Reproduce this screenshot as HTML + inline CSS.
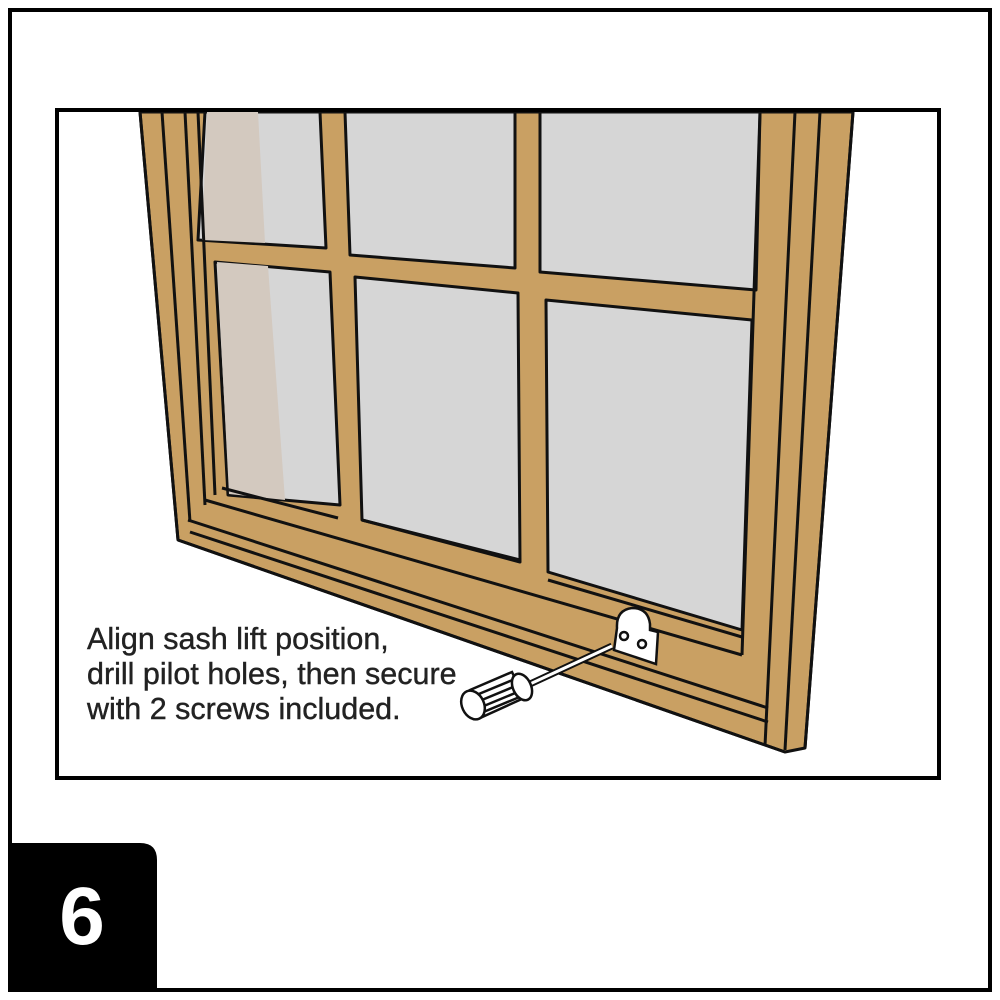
<!DOCTYPE html>
<html><head><style>
html,body{margin:0;padding:0;background:#fff;}
svg{display:block;}
</style></head><body>
<svg width="1000" height="1000" viewBox="0 0 1000 1000" xmlns="http://www.w3.org/2000/svg">
<rect x="0" y="0" width="1000" height="1000" fill="#fff"/>
<rect x="10" y="10" width="980" height="980" fill="none" stroke="#000" stroke-width="4"/>
<g stroke="#111" stroke-width="3" stroke-linejoin="round">
<polygon points="140,112 853,112 805,748 785,752 178,540" fill="#c9a063"/>
<polygon points="205,112 320,112 326,248 198,240" fill="#d6d6d6"/>
<polygon points="207,112 258,112 265,243 202,240" fill="#d3c9bf" stroke="none"/>
<polygon points="345,112 515,112 515,268 350,255" fill="#d6d6d6"/>
<polygon points="540,112 760,112 756,290 540,272" fill="#d6d6d6"/>
<polygon points="215,262 330,272 340,505 228,495" fill="#d6d6d6"/>
<polygon points="217,262 268,266 285,500 229,494" fill="#d3c9bf" stroke="none"/>
<polygon points="355,277 518,293 520,562 362,520" fill="#d6d6d6"/>
<polygon points="546,300 752,320 742,630 548,572" fill="#d6d6d6"/>
<polyline points="222,488 338,518" fill="none"/>
<polyline points="362,520 520,560" fill="none"/>
<polyline points="548,580 742,637" fill="none"/>
<line x1="162" y1="112" x2="190" y2="522"/>
<line x1="185" y1="112" x2="205" y2="505"/>
<line x1="198" y1="112" x2="215" y2="495"/>
<line x1="820" y1="112" x2="785" y2="750"/>
<line x1="795" y1="112" x2="765" y2="746"/>
<line x1="760" y1="112" x2="742" y2="655"/>
<polyline points="205,500 742,655" fill="none"/>
<polyline points="188,520 768,708" fill="none"/>
<polyline points="190,532 768,722" fill="none"/>
<line x1="140" y1="112" x2="178" y2="540"/>
<line x1="853" y1="112" x2="805" y2="748"/>
<line x1="178" y1="540" x2="785" y2="752"/>
</g>
<g stroke="#111" stroke-width="2.5" fill="#fff">
<path d="M617,628 Q616,610 632,608 Q648,608 650,624 L650,630 L658,632 L656,664 L614,650 Z"/>
<circle cx="624" cy="636" r="4"/>
<circle cx="642" cy="644" r="4"/>
</g>
<g stroke="#111" stroke-width="2.5">
<line x1="530" y1="684" x2="612" y2="646" stroke-width="7"/>
<line x1="530" y1="684" x2="612" y2="646" stroke="#fff" stroke-width="3"/>
<polygon points="470,690 512,672 524,698 480,718" fill="#fff"/>
<line x1="474" y1="696" x2="515" y2="679"/>
<line x1="477" y1="702" x2="518" y2="685"/>
<line x1="479" y1="708" x2="520" y2="691"/>
<line x1="481" y1="713" x2="522" y2="696"/>
<ellipse cx="473" cy="705" rx="11" ry="15" fill="#fff" transform="rotate(-25 473 705)"/>
<ellipse cx="522" cy="687" rx="9" ry="14" fill="#fff" transform="rotate(-25 522 687)"/>
</g>
<text font-family="Liberation Sans, sans-serif" font-size="30.5" fill="#222" stroke="#222" stroke-width="0.4">
<tspan x="87" y="649">Align sash lift position,</tspan>
<tspan x="87" y="684">drill pilot holes, then secure</tspan>
<tspan x="87" y="719">with 2 screws included.</tspan>
</text>
<rect x="57" y="110" width="882" height="668" fill="none" stroke="#000" stroke-width="4"/>
<path d="M10,843 L140,843 Q157,843 157,860 L157,990 L10,990 Z" fill="#000"/>
<text x="82" y="944" text-anchor="middle" font-family="Liberation Sans, sans-serif" font-weight="bold" font-size="82" fill="#fff">6</text>
</svg>
</body></html>
